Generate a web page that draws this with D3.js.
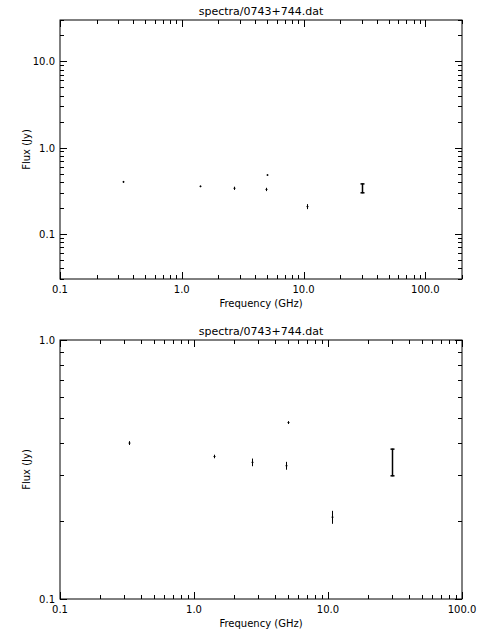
<!DOCTYPE html>
<html><head><meta charset="utf-8">
<script src="https://cdn.jsdelivr.net/npm/d3@7"></script>
<style>body{margin:0;background:#fff}text{font-family:"DejaVu Sans",sans-serif;font-size:10px;fill:#000}</style>
</head><body>
<script>
// data
var freq = [0.33, 1.4, 2.7, 4.9, 5.0, 10.7, 30.0];
var flux = [0.40, 0.355, 0.337, 0.327, 0.48, 0.207, 0.339];
var fluxErr = [0.005, 0.004, 0.01, 0.01, 0.004, 0.011, 0.04];
var title = "spectra/0743+744.dat";
var xTicks = [0.1, 1, 10, 100];

var svg = d3.select("body").append("svg").attr("width", 480).attr("height", 640);

function panel(top, xDom, yDom, yTicks, capW) {
  var left = 60, right = 462, bottom = top + 259;
  var x = d3.scaleLog().domain(xDom).range([left, right]);
  var y = d3.scaleLog().domain(yDom).range([bottom, top]);
  var g = svg.append("g");
  g.append("rect").attr("x", left).attr("y", top).attr("width", right - left).attr("height", bottom - top)
    .attr("fill", "none").attr("stroke", "#000").attr("stroke-width", 1);

  function minors(dom) {
    var out = [];
    for (var e = -3; e < 4; e++) for (var k = 1; k < 10; k++) {
      var v = k * Math.pow(10, e);
      if (v >= dom[0] * 0.999 && v <= dom[1] * 1.001) out.push({v: v, major: k === 1});
    }
    return out;
  }
  minors(xDom).forEach(function (t) {
    var L = t.major ? 7 : 4, px = Math.round(x(t.v)) + 0.5;
    g.append("line").attr("x1", px).attr("x2", px).attr("y1", bottom).attr("y2", bottom - L).attr("stroke", "#000");
    g.append("line").attr("x1", px).attr("x2", px).attr("y1", top).attr("y2", top + L).attr("stroke", "#000");
  });
  minors(yDom).forEach(function (t) {
    var L = t.major ? 7 : 4, py = Math.round(y(t.v)) + 0.5;
    g.append("line").attr("y1", py).attr("y2", py).attr("x1", left).attr("x2", left + L).attr("stroke", "#000");
    g.append("line").attr("y1", py).attr("y2", py).attr("x1", right).attr("x2", right - L).attr("stroke", "#000");
  });
  xTicks.filter(function (v) { return v >= xDom[0] && v <= xDom[1]; }).forEach(function (v) {
    g.append("text").attr("x", x(v)).attr("y", bottom + 14).attr("text-anchor", "middle").text(v.toFixed(1));
  });
  yTicks.forEach(function (v) {
    g.append("text").attr("x", left - 5).attr("y", y(v) + 4).attr("text-anchor", "end").text(v.toFixed(1));
  });
  g.append("text").attr("x", (left + right) / 2).attr("y", top - 5).attr("text-anchor", "middle").style("font-size", "11px").text(title);
  g.append("text").attr("x", (left + right) / 2).attr("y", bottom + 28).attr("text-anchor", "middle").text("Frequency (GHz)");
  g.append("text").attr("transform", "translate(" + (left - 30) + "," + ((top + bottom) / 2) + ") rotate(-90)")
    .attr("text-anchor", "middle").text("Flux (Jy)");

  freq.forEach(function (f, i) {
    var px = Math.round(x(f)) + 0.5, y1 = y(flux[i] + fluxErr[i]), y0 = y(flux[i] - fluxErr[i]);
    var big = fluxErr[i] > 0.02, w = big ? 1.5 : 1;
    g.append("line").attr("x1", px).attr("x2", px).attr("y1", y1 - 0.5).attr("y2", y0 + 0.5).attr("stroke", "#000").attr("stroke-width", w);
    if (big) {
      [y0, y1].forEach(function (yy) {
        g.append("line").attr("x1", px - capW).attr("x2", px + capW).attr("y1", yy).attr("y2", yy).attr("stroke", "#000").attr("stroke-width", w);
      });
    } else {
      g.append("line").attr("x1", px - 1).attr("x2", px + 1).attr("y1", y(flux[i])).attr("y2", y(flux[i])).attr("stroke", "#000");
    }
  });
}

panel(20, [0.1, 200], [0.03, 30], [0.1, 1, 10], 2);
panel(340, [0.1, 100], [0.1, 1], [0.1, 1], 2);
</script>
</body></html>
